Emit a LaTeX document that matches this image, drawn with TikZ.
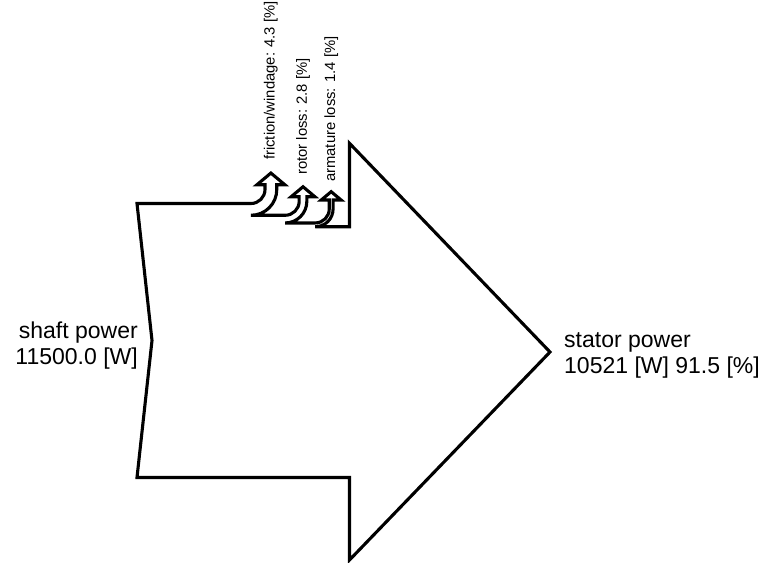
\documentclass[tikz,border=0pt]{standalone}
\usepackage{fontspec}
\setmainfont{Liberation Sans}
\tikzset{
  outline/.style={draw=black, line width=3.1pt, line join=miter, fill=none},
  losslabel/.style={rotate=90, anchor=west, inner sep=0pt, font=\fontsize{14.8}{17}\selectfont},
  biglabel/.style={inner sep=0pt, font=\fontsize{23}{26}\selectfont}
}
\begin{document}
\begin{tikzpicture}[x=1pt, y=-1pt]
\useasboundingbox (0,0) rectangle (765,562);
% Sankey outline
\draw[outline] (137,203.5) -- (251,203.5)
  .. controls (258.73,203.5) and (265,197.23) .. (265,189.5)
  -- (265,184.7) -- (257,184.7) -- (270.89,173.05) -- (284.78,184.7) -- (276.78,184.7)
  -- (276.78,189.5) .. controls (276.78,203.74) and (265.24,215.28) .. (251,215.28)
  -- (285.18,215.28)
  .. controls (292.91,215.28) and (299.18,209.01) .. (299.18,201.28)
  -- (299.18,196.7) -- (291.18,196.7) -- (303.02,186.77) -- (314.85,196.7) -- (306.85,196.7)
  -- (306.85,201.28) .. controls (306.85,213.25) and (297.15,222.95) .. (285.18,222.95)
  -- (315.25,222.95)
  .. controls (322.98,222.95) and (329.25,216.68) .. (329.25,208.95)
  -- (329.25,200) -- (321.25,200) -- (331.17,191.7) -- (341.09,200) -- (333.09,200)
  -- (333.09,208.95) .. controls (333.09,218.80) and (325.10,226.79) .. (315.25,226.79)
  -- (349.5,226.79) -- (349.5,143.3) -- (550,352) -- (349.5,560) -- (349.5,477.5)
  -- (137,477.5) -- (152,340.5) -- cycle;
% loss labels
\node[losslabel] (fric) at (270.9,160) {friction/windage: 4.3 [\%]};
\node[losslabel] (rotor) at (303,175) {rotor loss: 2.8 [\%]};
\node[losslabel] (arm) at (331.2,182) {armature loss: 1.4 [\%]};
% input / output labels
\node[biglabel, anchor=base east] (shaftA) at (138,338.3) {shaft power};
\node[biglabel, anchor=base east] (shaftB) at (138,364.3) {11500.0 [W]};
\node[biglabel, anchor=base west] (statorA) at (564,347) {stator power};
\node[biglabel, anchor=base west] (statorB) at (564,373.5) {10521 [W] 91.5 [\%]};
\end{tikzpicture}
\end{document}
